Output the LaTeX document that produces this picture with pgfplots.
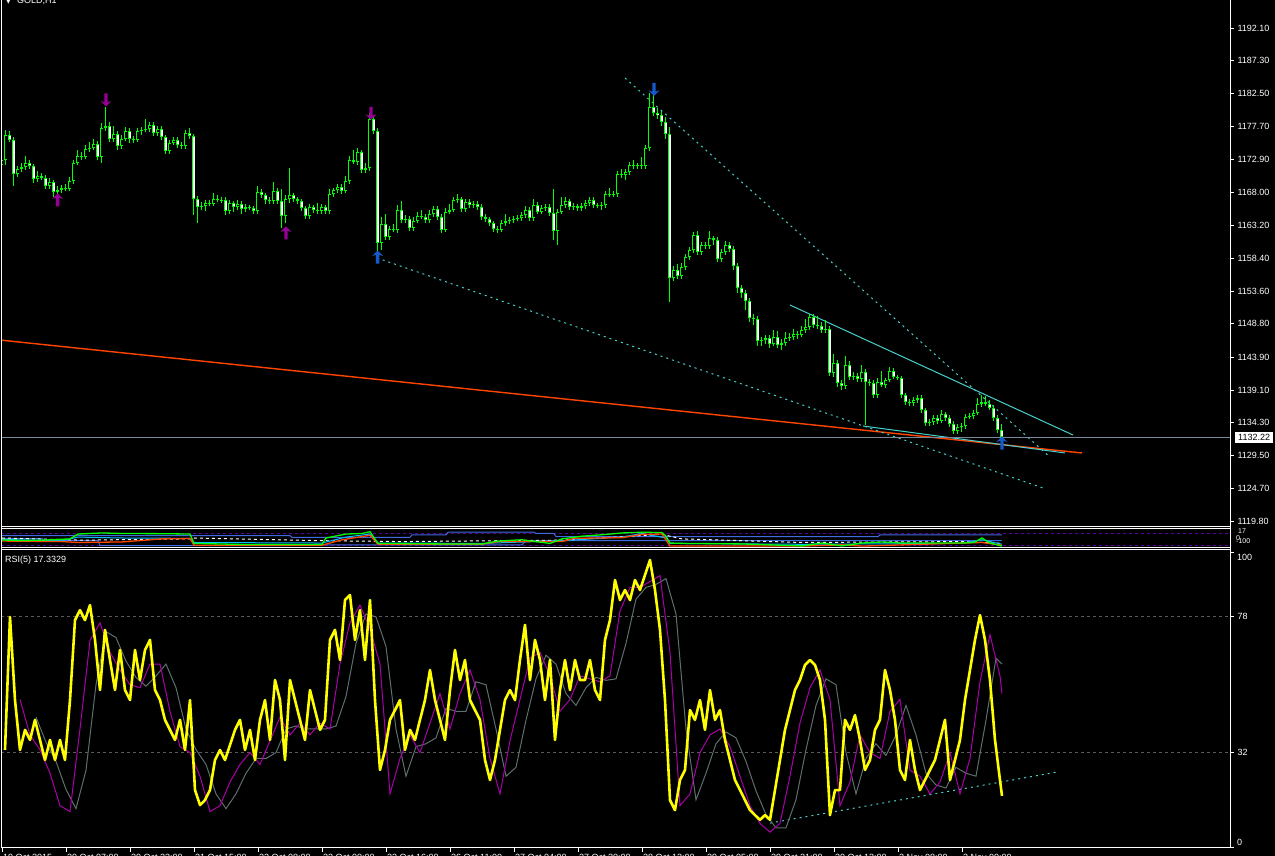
\documentclass[border=0pt]{standalone}
\usepackage{fontspec}
\setmainfont{Liberation Sans}
\newfontfamily\dejavu{DejaVu Sans}
\usepackage{pgfplots}
\usepackage{pgfplotstable}
\pgfplotsset{compat=1.18}
\definecolor{candle}{RGB}{0,255,0}
\definecolor{trend}{RGB}{72,209,204}
\definecolor{ored}{RGB}{255,69,0}
\definecolor{bidgray}{RGB}{119,136,153}
\definecolor{fracpurple}{RGB}{150,0,150}
\definecolor{arrblue}{RGB}{20,90,200}
\definecolor{rsiy}{RGB}{255,255,0}
\definecolor{levgray}{RGB}{90,90,90}
\definecolor{royal}{RGB}{65,105,225}
\definecolor{dsky}{RGB}{0,191,255}
\definecolor{dpurple}{RGB}{90,0,160}
\definecolor{mapurple}{RGB}{170,0,170}
\definecolor{magray}{RGB}{95,110,110}
\newcommand\mt{\fontsize{9pt}{10pt}\selectfont}

\pgfdeclareplotmark{dnarr}{%
  \pgfpathmoveto{\pgfpoint{0pt}{-6.5pt}}%
  \pgfpathlineto{\pgfpoint{-5.5pt}{-1pt}}%
  \pgfpathlineto{\pgfpoint{-1.7pt}{-2.2pt}}%
  \pgfpathlineto{\pgfpoint{-1.7pt}{6.5pt}}%
  \pgfpathlineto{\pgfpoint{1.7pt}{6.5pt}}%
  \pgfpathlineto{\pgfpoint{1.7pt}{-2.2pt}}%
  \pgfpathlineto{\pgfpoint{5.5pt}{-1pt}}%
  \pgfpathclose\pgfusepathqfill}
\pgfdeclareplotmark{uparr}{%
  \pgfpathmoveto{\pgfpoint{0pt}{6.5pt}}%
  \pgfpathlineto{\pgfpoint{-5.5pt}{1pt}}%
  \pgfpathlineto{\pgfpoint{-1.7pt}{2.2pt}}%
  \pgfpathlineto{\pgfpoint{-1.7pt}{-6.5pt}}%
  \pgfpathlineto{\pgfpoint{1.7pt}{-6.5pt}}%
  \pgfpathlineto{\pgfpoint{1.7pt}{2.2pt}}%
  \pgfpathlineto{\pgfpoint{5.5pt}{1pt}}%
  \pgfpathclose\pgfusepathqfill}

\pgfplotstableread{
x o h l c
0 1172.04 1173.20 1171.60 1172.77
1 1172.77 1177.17 1172.00 1176.43
2 1176.43 1177.00 1175.40 1175.70
3 1175.70 1176.20 1168.90 1170.72
4 1170.72 1171.90 1170.30 1171.46
5 1171.46 1172.30 1171.00 1171.75
6 1171.75 1173.40 1171.30 1172.34
7 1172.34 1172.80 1171.40 1171.90
8 1171.90 1172.20 1169.40 1169.99
9 1169.99 1171.20 1169.60 1170.43
10 1170.43 1170.90 1169.80 1170.14
11 1170.14 1170.60 1168.50 1168.97
12 1168.97 1170.20 1168.60 1169.55
13 1169.55 1169.90 1167.36 1168.09
14 1168.09 1168.90 1167.70 1168.38
15 1168.38 1169.10 1168.00 1168.67
16 1168.67 1169.20 1168.20 1168.53
17 1168.53 1170.30 1168.20 1169.70
18 1169.70 1172.80 1169.30 1172.34
19 1172.34 1174.20 1172.00 1173.36
20 1173.36 1173.90 1172.80 1173.21
21 1173.21 1174.90 1172.90 1174.38
22 1174.38 1175.40 1174.00 1174.53
23 1174.53 1175.90 1174.20 1175.12
24 1175.12 1175.50 1172.70 1173.21
25 1173.21 1178.20 1172.40 1177.46
26 1177.46 1180.53 1177.00 1177.75
27 1177.75 1178.40 1175.40 1175.85
28 1175.85 1177.80 1175.40 1176.58
29 1176.58 1177.00 1174.30 1174.82
30 1174.82 1176.50 1174.40 1175.85
31 1175.85 1177.60 1175.50 1177.02
32 1177.02 1177.40 1175.30 1175.85
33 1175.85 1176.30 1175.30 1175.70
34 1175.70 1177.50 1175.40 1177.02
35 1177.02 1177.60 1176.50 1177.17
36 1177.17 1178.80 1176.80 1177.31
37 1177.31 1178.40 1176.90 1177.90
38 1177.90 1178.30 1176.30 1176.73
39 1176.73 1177.80 1176.30 1177.31
40 1177.31 1177.70 1175.70 1176.14
41 1176.14 1176.50 1173.60 1174.09
42 1174.09 1175.70 1173.70 1175.26
43 1175.26 1176.10 1174.90 1175.70
44 1175.70 1176.10 1174.50 1174.97
45 1174.97 1175.40 1174.40 1174.82
46 1174.82 1177.10 1174.40 1176.73
47 1176.73 1177.40 1175.90 1176.29
48 1176.29 1176.60 1164.72 1167.06
49 1167.06 1167.50 1163.55 1165.89
50 1165.89 1166.60 1165.50 1166.04
51 1166.04 1166.90 1165.30 1166.48
52 1166.48 1166.90 1166.00 1166.38
53 1166.38 1167.90 1166.00 1167.06
54 1167.06 1167.60 1166.60 1166.96
55 1166.96 1167.30 1166.50 1166.86
56 1166.86 1167.30 1164.70 1165.31
57 1165.31 1166.90 1164.90 1166.48
58 1166.48 1166.80 1165.20 1165.89
59 1165.89 1166.90 1165.50 1166.33
60 1166.33 1166.70 1164.90 1165.60
61 1165.60 1166.30 1165.20 1165.89
62 1165.89 1166.20 1165.40 1165.75
63 1165.75 1166.10 1164.90 1165.31
64 1165.31 1169.00 1164.90 1168.09
65 1168.09 1168.60 1167.20 1167.65
66 1167.65 1168.00 1166.40 1166.92
67 1166.92 1167.30 1166.40 1166.77
68 1166.77 1169.60 1166.40 1168.24
69 1168.24 1168.70 1166.30 1166.77
70 1166.77 1168.60 1162.82 1164.58
71 1164.58 1167.70 1163.60 1167.06
72 1167.06 1171.60 1166.50 1167.65
73 1167.65 1168.00 1166.60 1167.06
74 1167.06 1167.40 1166.30 1166.77
75 1166.77 1167.10 1165.30 1165.75
76 1165.75 1166.10 1164.10 1164.58
77 1164.58 1166.40 1164.20 1165.89
78 1165.89 1166.20 1165.00 1165.45
79 1165.45 1166.50 1164.90 1165.31
80 1165.31 1166.30 1164.90 1165.89
81 1165.89 1166.20 1164.90 1165.31
82 1165.31 1168.50 1164.90 1167.80
83 1167.80 1168.70 1167.40 1168.38
84 1168.38 1169.20 1167.90 1168.82
85 1168.82 1169.30 1167.80 1168.24
86 1168.24 1170.40 1167.90 1169.70
87 1169.70 1173.30 1169.30 1172.77
88 1172.77 1174.20 1172.20 1172.48
89 1172.48 1174.60 1172.10 1173.95
90 1173.95 1174.30 1170.90 1171.31
91 1171.31 1172.40 1170.80 1171.60
92 1171.60 1179.66 1171.20 1178.78
93 1178.78 1179.10 1176.60 1177.02
94 1177.02 1177.40 1158.57 1160.62
95 1160.62 1164.50 1159.60 1163.40
96 1163.40 1164.80 1161.00 1161.50
97 1161.50 1163.10 1161.00 1162.67
98 1162.67 1163.40 1162.20 1162.57
99 1162.57 1166.20 1162.10 1165.45
100 1165.45 1166.70 1163.60 1163.99
101 1163.99 1164.70 1163.60 1164.14
102 1164.14 1164.60 1162.40 1162.82
103 1162.82 1164.50 1162.40 1163.84
104 1163.84 1165.20 1163.50 1164.58
105 1164.58 1165.50 1164.10 1164.43
106 1164.43 1164.80 1163.60 1163.99
107 1163.99 1165.40 1163.60 1164.87
108 1164.87 1166.10 1164.50 1165.60
109 1165.60 1166.00 1164.00 1164.43
110 1164.43 1164.80 1162.10 1162.53
111 1162.53 1165.70 1162.20 1165.16
112 1165.16 1166.30 1164.80 1165.45
113 1165.45 1167.40 1165.10 1166.92
114 1166.92 1167.80 1166.50 1167.06
115 1167.06 1167.40 1165.20 1165.60
116 1165.60 1167.10 1165.20 1166.63
117 1166.63 1167.00 1165.80 1166.19
118 1166.19 1166.80 1165.80 1166.33
119 1166.33 1166.70 1165.50 1165.89
120 1165.89 1166.40 1164.00 1164.43
121 1164.43 1164.80 1163.70 1164.14
122 1164.14 1164.50 1163.10 1163.55
123 1163.55 1163.90 1162.20 1162.67
124 1162.67 1163.10 1162.10 1162.53
125 1162.53 1164.00 1162.20 1163.55
126 1163.55 1164.90 1163.10 1163.84
127 1163.84 1164.40 1163.40 1163.94
128 1163.94 1164.60 1163.50 1164.14
129 1164.14 1164.70 1163.80 1164.28
130 1164.28 1165.10 1163.90 1164.72
131 1164.72 1166.10 1164.30 1165.45
132 1165.45 1165.90 1163.80 1164.28
133 1164.28 1167.06 1163.90 1166.19
134 1166.19 1166.60 1164.80 1165.16
135 1165.16 1166.20 1164.80 1165.75
136 1165.75 1166.30 1165.30 1165.89
137 1165.89 1166.30 1164.60 1165.01
138 1165.01 1168.53 1161.06 1162.38
139 1162.38 1165.60 1160.33 1165.16
140 1165.16 1167.40 1164.80 1166.19
141 1166.19 1167.30 1165.80 1166.77
142 1166.77 1167.10 1165.50 1165.89
143 1165.89 1166.50 1165.50 1166.04
144 1166.04 1166.40 1165.30 1165.75
145 1165.75 1166.50 1165.30 1166.04
146 1166.04 1166.90 1165.60 1166.48
147 1166.48 1167.40 1166.10 1166.92
148 1166.92 1167.30 1165.80 1166.19
149 1166.19 1166.50 1165.70 1166.04
150 1166.04 1166.60 1165.40 1166.19
151 1166.19 1168.30 1165.80 1167.80
152 1167.80 1168.70 1167.30 1167.65
153 1167.65 1168.20 1167.30 1167.80
154 1167.80 1171.20 1167.40 1170.72
155 1170.72 1171.40 1170.20 1170.58
156 1170.58 1171.40 1169.90 1171.02
157 1171.02 1172.50 1170.60 1172.04
158 1172.04 1172.70 1171.40 1171.90
159 1171.90 1172.40 1171.50 1172.00
160 1172.00 1173.20 1171.50 1171.85
161 1171.85 1174.90 1171.40 1174.53
162 1174.53 1182.58 1174.10 1180.53
163 1180.53 1182.58 1179.20 1179.66
164 1179.66 1180.40 1178.80 1179.36
165 1179.36 1180.00 1177.80 1178.34
166 1178.34 1179.00 1175.80 1176.58
167 1176.58 1177.60 1152.00 1155.50
168 1155.50 1157.20 1155.00 1156.67
169 1156.67 1157.60 1155.40 1155.79
170 1155.79 1157.70 1155.30 1157.11
171 1157.11 1159.00 1156.60 1158.57
172 1158.57 1160.10 1158.10 1159.60
173 1159.60 1162.30 1159.10 1161.79
174 1161.79 1162.40 1158.90 1159.30
175 1159.30 1160.80 1158.80 1160.33
176 1160.33 1160.70 1159.70 1160.18
177 1160.18 1162.40 1159.80 1161.35
178 1161.35 1161.70 1160.30 1161.06
179 1161.06 1161.50 1157.80 1158.28
180 1158.28 1159.80 1157.90 1159.30
181 1159.30 1160.90 1158.90 1160.33
182 1160.33 1160.80 1159.30 1159.74
183 1159.74 1160.20 1156.70 1157.26
184 1157.26 1157.70 1153.30 1154.03
185 1154.03 1154.50 1152.60 1153.30
186 1153.30 1153.80 1150.80 1152.13
187 1152.13 1152.60 1149.00 1149.64
188 1149.64 1150.20 1148.60 1149.50
189 1149.50 1149.90 1145.60 1146.27
190 1146.27 1146.90 1145.50 1146.42
191 1146.42 1147.20 1145.90 1146.71
192 1146.71 1147.10 1145.20 1145.83
193 1145.83 1147.90 1145.50 1146.86
194 1146.86 1147.80 1145.20 1145.69
195 1145.69 1146.50 1144.90 1145.98
196 1145.98 1147.60 1145.60 1146.71
197 1146.71 1147.50 1146.30 1146.86
198 1146.86 1148.10 1146.40 1147.30
199 1147.30 1147.70 1146.60 1147.15
200 1147.15 1148.50 1146.80 1147.88
201 1147.88 1149.50 1147.50 1148.32
202 1148.32 1150.30 1147.90 1149.79
203 1149.79 1150.20 1148.20 1148.62
204 1148.62 1149.90 1148.10 1148.47
205 1148.47 1149.10 1147.50 1147.88
206 1147.88 1149.30 1147.50 1148.03
207 1148.03 1148.50 1141.10 1141.59
208 1141.59 1144.40 1141.00 1143.05
209 1143.05 1143.50 1139.50 1140.12
210 1140.12 1140.60 1139.10 1139.69
211 1139.69 1144.10 1139.20 1142.76
212 1142.76 1143.30 1140.60 1141.00
213 1141.00 1141.70 1140.60 1141.15
214 1141.15 1141.60 1140.20 1140.71
215 1140.71 1142.80 1140.30 1141.74
216 1141.74 1142.20 1133.98 1140.27
217 1140.27 1140.70 1139.70 1140.12
218 1140.12 1140.50 1137.90 1138.37
219 1138.37 1140.80 1137.90 1140.27
220 1140.27 1141.90 1139.50 1139.83
221 1139.83 1140.90 1139.40 1140.56
222 1140.56 1142.40 1140.20 1141.88
223 1141.88 1142.30 1140.70 1141.00
224 1141.00 1141.30 1140.50 1140.86
225 1140.86 1141.20 1137.90 1138.37
226 1138.37 1138.70 1136.90 1137.34
227 1137.34 1137.80 1136.70 1137.20
228 1137.20 1138.10 1136.80 1137.64
229 1137.64 1138.40 1137.20 1137.93
230 1137.93 1138.30 1135.80 1136.17
231 1136.17 1136.50 1133.80 1134.27
232 1134.27 1134.80 1133.90 1134.41
233 1134.41 1135.50 1134.00 1135.00
234 1135.00 1135.40 1134.10 1134.56
235 1134.56 1136.20 1134.20 1135.59
236 1135.59 1135.90 1134.60 1135.00
237 1135.00 1135.40 1133.70 1134.12
238 1134.12 1134.50 1132.70 1133.10
239 1133.10 1134.10 1132.70 1133.68
240 1133.68 1134.20 1132.90 1133.83
241 1133.83 1135.60 1133.40 1135.15
242 1135.15 1135.70 1134.80 1135.29
243 1135.29 1136.10 1134.90 1135.73
244 1135.73 1137.90 1135.40 1137.05
245 1137.05 1138.30 1136.60 1137.34
246 1137.34 1138.20 1136.70 1137.05
247 1137.05 1137.60 1136.10 1136.46
248 1136.46 1136.90 1134.60 1135.00
249 1135.00 1135.40 1132.80 1133.24
250 1133.24 1134.10 1131.80 1132.22
}\ohlc

\pgfplotsset{
  mtaxis/.style={scale only axis, anchor=south west, width=1229pt,
    xmin=-0.25, xmax=307, axis line style={draw=none},
    tick align=outside, major tick length=4pt,
    tick style={white, line width=0.8pt},
    every tick label/.append style={font=\mt, text=white},
    clip=true},
}

\begin{document}
\begin{tikzpicture}[x=1pt,y=1pt]
\useasboundingbox (0,0) rectangle (1275,856);
\fill[black] (0,0) rectangle (1275,856);

% ---------------- main price panel ----------------
\begin{axis}[mtaxis, at={(1pt,330pt)}, height=526pt,
  ymin=1119.19, ymax=1196.2, xtick=\empty,
  ytick={1119.8,1124.7,1129.5,1134.3,1139.1,1143.9,1148.8,1153.6,1158.4,1163.2,1168.0,1172.9,1177.7,1182.5,1187.3,1192.1},
  yticklabels={1119.80,1124.70,1129.50,1134.30,1139.10,1143.90,1148.80,1153.60,1158.40,1163.20,1168.00,1172.90,1177.70,1182.50,1187.30,1192.10},
  ytick pos=right, yticklabel pos=right]
\addplot[ored, line width=1.4pt] coordinates {(-0.25,1146.40) (270,1129.88)};
\addplot[trend, line width=1pt, dash pattern=on 2pt off 4pt] coordinates {(93.75,1158.43) (260.25,1124.75)};
\addplot[trend, line width=1pt, dash pattern=on 2pt off 4pt] coordinates {(155.75,1184.78) (262,1129.29)};
\addplot[trend, line width=1pt] coordinates {(197,1151.54) (267.75,1132.51)};
\addplot[trend, line width=1pt] coordinates {(215.25,1133.83) (265.75,1129.88)};
\addplot[bidgray, line width=1pt] coordinates {(-0.25,1132.17) (307,1132.17)};
% candles: wicks, body outlines, body interiors (white = down bar, black = up bar)
\addplot[candle, line width=1pt, quiver={u=0, v=\thisrow{h}-\thisrow{l}}] table[x=x, y=l] {\ohlc};
\addplot[candle, line width=3pt, quiver={u=0, v=\thisrow{c}-\thisrow{o}}] table[x=x, y=o] {\ohlc};
\addplot[white, line width=1.1pt,
  quiver={u=0, v={(\thisrow{o}-\thisrow{c}-0.29)*((\thisrow{o}-\thisrow{c})>0.29)}}]
  table[x=x, y expr=\thisrow{c}+0.145] {\ohlc};
\addplot[black, line width=1.1pt,
  quiver={u=0, v={(\thisrow{c}-\thisrow{o}-0.29)*((\thisrow{c}-\thisrow{o})>0.29)}}]
  table[x=x, y expr=\thisrow{o}+0.145] {\ohlc};
% fractal / signal arrows
\addplot[only marks, mark=dnarr, fracpurple] coordinates {(26,1181.56) (92.25,1179.61)};
\addplot[only marks, mark=uparr, fracpurple] coordinates {(13.9,1166.92) (71,1162.09)};
\addplot[only marks, mark=uparr, arrblue] coordinates {(93.9,1158.57) (250,1131.34)};
\addplot[only marks, mark=dnarr, arrblue] coordinates {(163,1183.12)};
\end{axis}

% ---------------- indicator strip ----------------
\begin{axis}[mtaxis, at={(1pt,309pt)}, height=18pt, ymin=0, ymax=100,
  xtick=\empty, ytick=\empty]
\addplot[dpurple, line width=1pt, dash pattern=on 3pt off 3pt] coordinates {(-0.25,76) (307,76)};
\addplot[dpurple, line width=1pt, dash pattern=on 3pt off 3pt] coordinates {(-0.25,6) (307,6)};
\addplot[royal, line width=1pt] coordinates {(0,63) (72,63) (72.5,54) (102,54) (102.5,67) (111,67) (111.5,82) (133,82) (133.5,75) (138,75) (138.5,58) (219,58) (219.5,67) (250,67)};
\addplot[royal, line width=1pt] coordinates {(0,47) (10,47) (10.5,35) (24,35) (24.5,8) (72,8) (72.5,12) (130,12) (131,35) (250,35)};
\addplot[white, line width=1pt, dash pattern=on 3pt off 3pt] coordinates {(0,50) (20,38) (47,45) (48,50) (80,35) (100,30) (140,38) (165,70) (170,45) (200,25) (240,30) (250,20)};
\addplot[dsky, line width=1pt] coordinates {(0,42) (15,35) (19,55) (30,50) (47,48) (48,25) (80,22) (86,55) (92,72) (94,22) (120,20) (140,35) (155,55) (160,75) (166,50) (167,20) (200,15) (240,20) (245,40) (250,15)};
\addplot[ored, line width=1.3pt] coordinates {(0,33) (15,30) (19,25) (30,28) (40,45) (47,47) (48,10) (80,10) (85,40) (92,65) (94,15) (120,15) (124,30) (140,30) (143,48) (155,52) (160,70) (165,72) (167,5) (200,5) (210,12) (215,5) (230,15) (245,25) (250,10)};
\addplot[candle, line width=1.3pt] coordinates {(0,39) (5,36) (10,38) (17,45) (19,72) (25,78) (30,75) (40,74) (47,72) (48,20) (60,14) (80,14) (81,50) (86,72) (90,75) (92,85) (94,20) (110,17) (120,17) (124,33) (130,40) (137,20) (140,45) (145,60) (150,68) (155,78) (160,82) (165,80) (166,60) (167,22) (170,20) (185,17) (200,6) (205,22) (210,6) (215,22) (220,28) (225,22) (240,22) (243,25) (245,50) (247,22) (250,5)};
\end{axis}

% ---------------- RSI panel ----------------
\begin{axis}[mtaxis, at={(1pt,8pt)}, height=298pt, ymin=-0.34, ymax=100.68,
  ytick={0,32,78,100}, yticklabels={,32,78,},
  ytick pos=right, yticklabel pos=right,
  xtick={0,16,...,240},
  xticklabels={19 Oct 2015,20 Oct 07:00,20 Oct 23:00,21 Oct 15:00,22 Oct 08:00,23 Oct 00:00,23 Oct 16:00,26 Oct 11:00,27 Oct 04:00,27 Oct 20:00,28 Oct 12:00,29 Oct 05:00,29 Oct 21:00,30 Oct 13:00,2 Nov 08:00,3 Nov 00:00},
  xtick pos=bottom, xticklabel pos=bottom,
  xticklabel style={anchor=north west, inner sep=0pt, xshift=1pt, yshift=-2pt}]
\addplot[levgray, line width=1pt, dash pattern=on 3pt off 3pt] coordinates {(-0.25,78) (307,78)};
\addplot[levgray, line width=1pt, dash pattern=on 3pt off 3pt] coordinates {(-0.25,32) (307,32)};
\addplot[trend, line width=1pt, dash pattern=on 2pt off 4pt] coordinates {(192,8.1) (263.75,25.4)};
% slow lines
\addplot[magray, line width=1pt] coordinates {
(8.5,44) (11,35.5) (13.5,29) (16,19.5) (18.5,13) (21,26) (23.5,55) (26,73) (28.5,71) (31,63)
(33.5,57.5) (36,54.5) (38.5,58) (41,62) (43.5,54) (46,40) (48.5,33) (51,28) (53.5,18) (56,13)
(58.5,18) (61,25) (63.5,30) (66,30) (68.5,32) (71,40) (73.5,41) (76,40) (78.5,40) (81,40)
(83.5,41) (86,51) (88.5,69) (91,79) (93.5,78) (96,68) (98.5,40) (101,24) (103.5,34) (106,35)
(108.5,37) (111,47) (113.5,46) (116,46) (118.5,56) (121,55) (123.5,40) (126,24) (128.5,27) (131,43)
(133.5,57) (136,65) (138.5,62) (141,52) (143.5,48) (146,54) (148.5,57.5) (151,56.5) (153.5,57) (156,69)
(158.5,84) (161,88) (163.5,89) (166,91) (168.5,79) (171,40) (173.5,16) (176,25) (178.5,35) (181,39)
(183.5,37) (186,29) (188.5,19) (191,11) (193.5,6.5) (196,6.5) (198.5,16) (201,33) (203.5,48) (206,57)
(208.5,55) (211,32) (213.5,18) (216,30) (218.5,35) (221,31) (223.5,38) (226,48) (228.5,38) (231,25)
(233.5,21) (236,20) (238.5,27) (241,25) (243.5,24) (246,43) (248.5,64) (250,62)};
\addplot[mapurple, line width=1pt] coordinates {
(4.5,50) (7,38) (9.5,33) (12,25) (14.5,14) (17,12) (19.5,40) (22,70) (24.5,76) (27,66)
(29.5,60) (32,55) (34.5,54) (37,62) (39.5,62) (42,46) (44.5,34) (47,32) (49.5,24) (52,12)
(54.5,14) (57,22) (59.5,28) (62,32) (64.5,28) (67,36) (69.5,44) (72,38) (74.5,42) (77,38)
(79.5,42) (82,40) (84.5,62) (87,76) (89.5,82) (92,74) (94.5,62) (97,18) (99.5,30) (102,38)
(104.5,32) (107,42) (109.5,52) (112,40) (114.5,52) (117,60) (119.5,50) (122,30) (124.5,18) (127,36)
(129.5,50) (132,64) (134.5,66) (137,58) (139.5,46) (142,50) (144.5,58) (147,57) (149.5,56) (152,58)
(154.5,80) (157,88) (159.5,88) (162,90) (164.5,92) (167,66) (169.5,14) (172,18) (174.5,32) (177,38)
(179.5,40) (182,34) (184.5,24) (187,14) (189.5,8) (192,5) (194.5,8) (197,24) (199.5,42) (202,54)
(204.5,60) (207,50) (209.5,14) (212,22) (214.5,38) (217,32) (219.5,30) (222,46) (224.5,50) (227,26)
(229.5,24) (232,18) (234.5,22) (237,32) (239.5,18) (242,30) (244.5,56) (247,72) (249.5,58) (250,52)};
% RSI(5)
\addplot[rsiy, line width=2.6pt, line join=round] coordinates {
(0.75,32.9) (2,78.0) (3.25,49.8) (4.5,32.9) (5.75,39.7) (7,36.3) (8.25,43.1) (9.5,36.3) (10.75,29.5) (12,36.3)
(13.25,29.5) (14.5,36.3) (15.75,29.5) (17,49.8) (18.25,76.9) (19.5,80.3) (20.75,76.9) (22,82.0) (23.25,70.2) (24.5,53.2)
(25.75,73.6) (27,63.4) (28.25,53.2) (29.5,66.8) (30.75,53.2) (32,49.8) (33.25,66.8) (34.5,56.6) (35.75,66.8) (37,70.2)
(38.25,53.2) (39.5,49.8) (40.75,43.1) (42,39.7) (43.25,36.3) (44.5,43.1) (45.75,32.9) (47,49.8) (48.25,19.3) (49.5,14.2)
(50.75,15.9) (52,19.3) (53.25,29.5) (54.5,32.9) (55.75,29.5) (57,34.6) (58.25,39.7) (59.5,43.1) (60.75,32.9) (62,39.7)
(63.25,29.5) (64.5,43.1) (65.75,49.8) (67,36.3) (68.25,56.6) (69.5,49.8) (70.75,29.5) (72,56.6) (73.25,49.8) (74.5,43.1)
(75.75,36.3) (77,53.2) (78.25,46.4) (79.5,39.7) (80.75,43.1) (82,70.2) (83.25,73.6) (84.5,63.4) (85.75,83.7) (87,85.4)
(88.25,70.2) (89.5,80.3) (90.75,63.4) (92,83.7) (93.25,49.8) (94.5,26.1) (95.75,32.9) (97,43.1) (98.25,46.4) (99.5,49.8)
(100.75,32.9) (102,39.7) (103.25,36.3) (104.5,43.1) (105.75,49.8) (107,60.0) (108.25,49.8) (109.5,43.1) (110.75,36.3) (112,53.2)
(113.25,66.8) (114.5,56.6) (115.75,63.4) (117,49.8) (118.25,46.4) (119.5,43.1) (120.75,29.5) (122,22.7) (123.25,29.5) (124.5,39.7)
(125.75,49.8) (127,53.2) (128.25,49.8) (129.5,63.4) (130.75,75.3) (132,56.6) (133.25,70.2) (134.5,63.4) (135.75,49.8) (137,63.4)
(138.25,36.3) (139.5,53.2) (140.75,63.4) (142,53.2) (143.25,63.4) (144.5,56.6) (145.75,56.6) (147,63.4) (148.25,53.2) (149.5,49.8)
(150.75,70.2) (152,76.9) (153.25,90.5) (154.5,83.7) (155.75,87.1) (157,83.7) (158.25,90.5) (159.5,87.1) (160.75,92.2) (162,97.3)
(163.25,87.1) (164.5,73.6) (165.75,49.8) (167,15.9) (168.25,12.5) (169.5,22.7) (170.75,26.1) (172,46.4) (173.25,43.1) (174.5,49.8)
(175.75,39.7) (177,53.2) (178.25,43.1) (179.5,46.4) (180.75,36.3) (182,29.5) (183.25,22.7) (184.5,19.3) (185.75,15.9) (187,12.5)
(188.25,10.8) (189.5,9.2) (190.75,10.8) (192,9.2) (193.25,19.3) (194.5,29.5) (195.75,39.7) (197,46.4) (198.25,53.2) (199.5,56.6)
(200.75,61.7) (202,63.4) (203.25,61.7) (204.5,56.6) (205.75,43.1) (207,10.8) (208.25,19.3) (209.5,19.3) (210.75,43.1) (212,39.7)
(213.25,44.7) (214.5,36.3) (215.75,26.1) (217,29.5) (218.25,39.7) (219.5,43.1) (220.75,60.0) (222,53.2) (223.25,43.1) (224.5,26.1)
(225.75,22.7) (227,36.3) (228.25,26.1) (229.5,19.3) (230.75,22.7) (232,26.1) (233.25,29.5) (234.5,36.3) (235.75,43.1) (237,22.7)
(238.25,29.5) (239.5,36.3) (240.75,49.8) (242,60.0) (243.25,70.2) (244.5,78.6) (245.75,70.2) (247,56.6) (248.25,36.3) (249.5,22.7)
(250,17.33)};
\end{axis}

% ---------------- panel borders ----------------
\draw[white, line width=1pt] (1.5,8) -- (1.5,856);
\draw[white, line width=1pt] (1230.5,8) -- (1230.5,856);
\draw[white, line width=1pt] (1.5,329.5) -- (1230.5,329.5);
\draw[white, line width=1pt] (1.5,327) -- (1230.5,327);
\draw[white, line width=1pt] (1.5,308.7) -- (1230.5,308.7);
\draw[white, line width=1pt] (1.5,306.5) -- (1230.5,306.5);
\draw[white, line width=1pt] (1.5,8) -- (1230.5,8);

% ---------------- texts ----------------
\node[anchor=base west, inner sep=0pt, text=white, font=\mt] at (17,852) {GOLD,H1};
\node[anchor=base west, inner sep=0pt, text=white, font=\dejavu\fontsize{6pt}{6pt}\selectfont] at (6,852) {▼};
\node[anchor=base west, inner sep=0pt, text=white, font=\mt] at (5,293) {RSI(5) 17.3329};
\node[anchor=west, inner xsep=3pt, inner ysep=2pt, fill=white, text=black, font=\mt] at (1235,418.5) {1132.22};
\node[anchor=west, inner sep=0pt, text=white, font=\mt] at (1237,299) {100};
\node[anchor=west, inner sep=0pt, text=white, font=\mt] at (1237,14) {0};
\node[anchor=west, inner sep=0pt, text=white, font=\fontsize{7pt}{7pt}\selectfont] at (1238,325) {17};
\node[anchor=west, inner sep=0pt, text=white, font=\fontsize{7pt}{7pt}\selectfont] at (1236,318) {0};
\node[anchor=west, inner sep=0pt, text=white, font=\fontsize{7pt}{7pt}\selectfont] at (1236,315) {-100};
\end{tikzpicture}
\end{document}
